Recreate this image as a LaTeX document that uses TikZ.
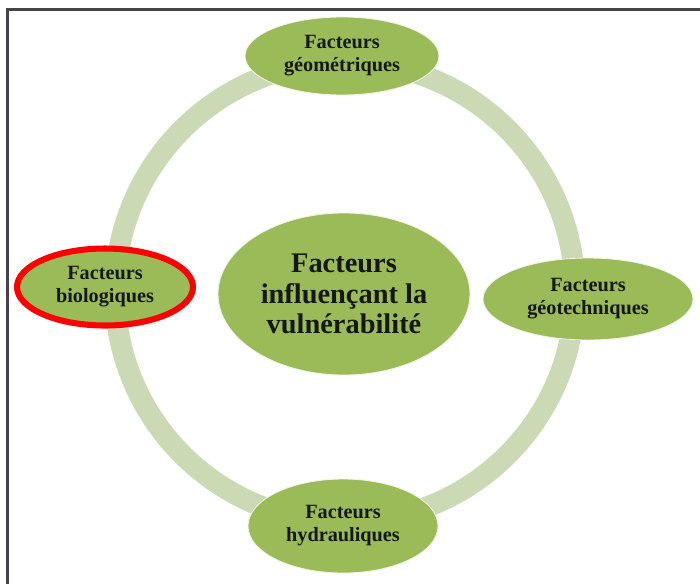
\documentclass[tikz,border=0pt]{standalone}
\usepackage{fontspec}
\setmainfont{Liberation Serif}
\usetikzlibrary{shapes.geometric, positioning}
\definecolor{leafcol}{HTML}{9BBB59}
\definecolor{ringcol}{HTML}{CBDAB4}
\definecolor{framecol}{HTML}{44424A}
\definecolor{inkcol}{HTML}{141810}

\begin{document}
\begin{tikzpicture}[
  factor/.style={
    ellipse, draw=white!85!leafcol, line width=0.6pt, fill=leafcol,
    inner sep=0pt, align=center, text=inkcol,
    font=\bfseries\fontsize{14.4}{16.3}\selectfont
  },
  hub/.style={factor, font=\bfseries\fontsize{20.2}{21.5}\selectfont},
  ring/.style={ringcol, line width=0.525cm},
  redring/.style={draw=red, line width=4.3pt}
]
\useasboundingbox (0,0) rectangle (17.5,-14.6);

% frame (left and top edges only)
\coordinate (fbl) at (0.1875,-14.6);
\coordinate (ftl) at (0.1875,-0.2375);
\coordinate (ftr) at (17.5,-0.2375);
\draw[framecol, line width=1.9pt] (fbl) -- (ftl) -- (ftr);

% ============ RING ============
\coordinate (ringc) at (8.625,-7.3);
\draw[ring] (ringc) circle (5.75);

% ============ FACTORS ============
\node[hub, minimum width=6.3cm, minimum height=4.05cm] (centre) at (8.6,-7.35)
  {Facteurs\\influençant la\\vulnérabilité};

\node[factor, minimum width=4.85cm, minimum height=1.95cm] (geo) at (8.55,-1.4)
  {Facteurs\\géométriques};
\node[factor, minimum width=5.25cm, minimum height=2.05cm] (geotech) at (14.7,-7.475)
  {Facteurs\\géotechniques};
\node[factor, minimum width=4.75cm, minimum height=2.35cm] (hydro) at (8.575,-13.15)
  {Facteurs\\hydrauliques};
\node[factor, redring, minimum width=4.4cm, minimum height=1.925cm] (bio) at (2.625,-7.175)
  {Facteurs\\biologiques};

\end{tikzpicture}
\end{document}
